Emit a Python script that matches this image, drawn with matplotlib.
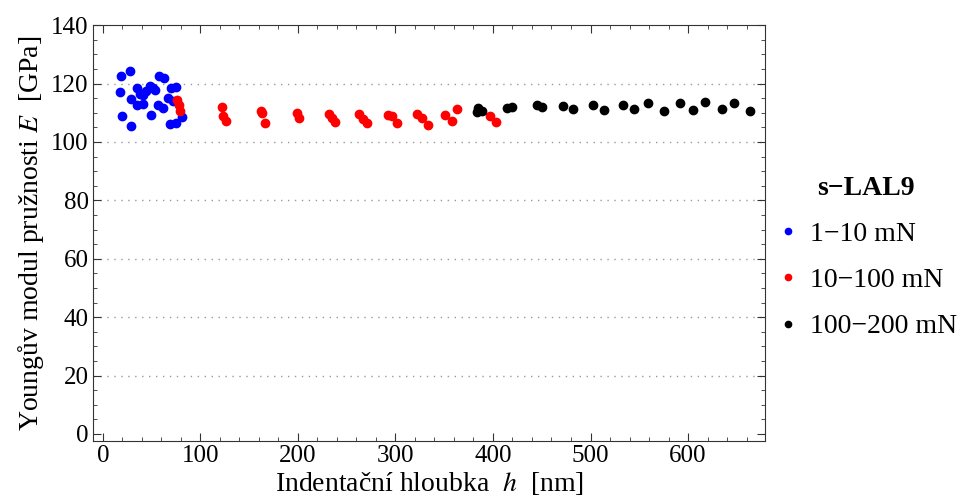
import numpy as np
import matplotlib
matplotlib.use('Agg')
import matplotlib.pyplot as plt
from matplotlib.ticker import MultipleLocator
from matplotlib.lines import Line2D

plt.rcParams['font.family'] = ['Liberation Serif', 'DejaVu Serif']
plt.rcParams['mathtext.fontset'] = 'stix'

# 1-10 mN
h_blue = [19.1, 27.7, 57.8, 62.6, 18.1, 35.2, 48.2, 51.6, 41.4, 28.7, 35.2, 41.3,
          56.7, 61.8, 69.7, 74.9, 67.0, 49.9, 19.8, 28.7, 69.4, 74.9, 81.7, 44.0,
          54.0, 72.0, 38.0]
E_blue = [122.6, 124.4, 122.7, 122.0, 117.0, 118.4, 119.3, 118.4, 116.1, 114.6, 112.7, 113.0,
          112.7, 111.5, 118.4, 118.7, 114.9, 109.2, 108.9, 105.6, 106.2, 106.6, 108.5, 117.5,
          117.8, 114.0, 116.5]

# 10-100 mN
h_red = [76.6, 77.9, 79.0, 122.7, 123.4, 126.2, 162.0, 163.3, 166.0, 198.6, 201.4,
         232.1, 234.5, 238.0, 262.9, 266.3, 270.4, 292.6, 296.0, 301.2, 322.4, 326.9, 333.0,
         350.8, 357.6, 362.8, 396.9, 403.0]
E_red = [114.4, 112.7, 110.6, 112.1, 108.9, 107.2, 110.6, 109.8, 106.6, 109.8, 108.1,
         109.6, 108.1, 106.7, 109.6, 107.8, 106.4, 109.2, 108.9, 106.4, 109.5, 108.1, 105.8,
         109.2, 107.2, 111.2, 109.0, 106.7]

# 100-200 mN
h_black = [384.9, 383.2, 388.4, 414.7, 419.1, 444.8, 449.9, 472.1, 481.7, 502.9, 513.8,
           533.0, 544.6, 559.3, 575.7, 591.8, 605.5, 617.4, 634.6, 647.5, 663.6]
E_black = [111.5, 110.2, 110.6, 111.5, 112.1, 112.7, 111.9, 112.3, 111.3, 112.7, 111.0,
           112.7, 111.2, 113.2, 110.7, 113.2, 111.0, 113.8, 111.3, 113.2, 110.7]

labels = ['1\u221210 mN', '10\u2212100 mN', '100\u2212200 mN']
colors = ['#0000ff', '#ff0000', '#000000']

fig = plt.figure(figsize=(9.6, 5.03), dpi=100)
ax = fig.add_axes([0.0969, 0.1233, 0.7001, 0.8267])

for hh, ee, c in zip([h_blue, h_red, h_black], [E_blue, E_red, E_black], colors):
    ax.plot(hh, ee, 'o', color=c, ms=6, mec=c, lw=0)

ax.set_xlim(-10, 679)
ax.set_ylim(-2.4, 140)
ax.xaxis.set_major_locator(MultipleLocator(100))
ax.xaxis.set_minor_locator(MultipleLocator(20))
ax.yaxis.set_major_locator(MultipleLocator(20))
ax.yaxis.set_minor_locator(MultipleLocator(5))
ax.tick_params(which='both', direction='in', top=True, right=True, labelsize=18, color='#333333')
ax.tick_params(which='major', length=6, pad=3)
ax.tick_params(which='minor', length=3)
for sp in ax.spines.values():
    sp.set_color('#333333')

for yv in range(20, 140, 20):
    ax.axhline(yv, color='#999999', lw=1, ls=(0, (1, 4)), zorder=0)

ax.set_xlabel('Indentační hloubka  $h$  [nm]', fontsize=20, labelpad=2)
ax.set_ylabel('Youngův modul pružnosti $E$  [GPa]', fontsize=20, labelpad=4)

handles = [Line2D([], [], marker='o', color=c, ls='', ms=4.5) for c in colors]
leg = fig.legend(handles, labels, loc='center left', bbox_to_anchor=(0.786, 0.488),
                 frameon=False, fontsize=20, title='s\u2212LAL9', handletextpad=0.3,
                 labelspacing=0.75, handlelength=1.0, borderpad=0.2)
leg.get_title().set_fontweight('bold')
leg.get_title().set_fontsize(20)

fig.savefig('out.png', dpi=100)
